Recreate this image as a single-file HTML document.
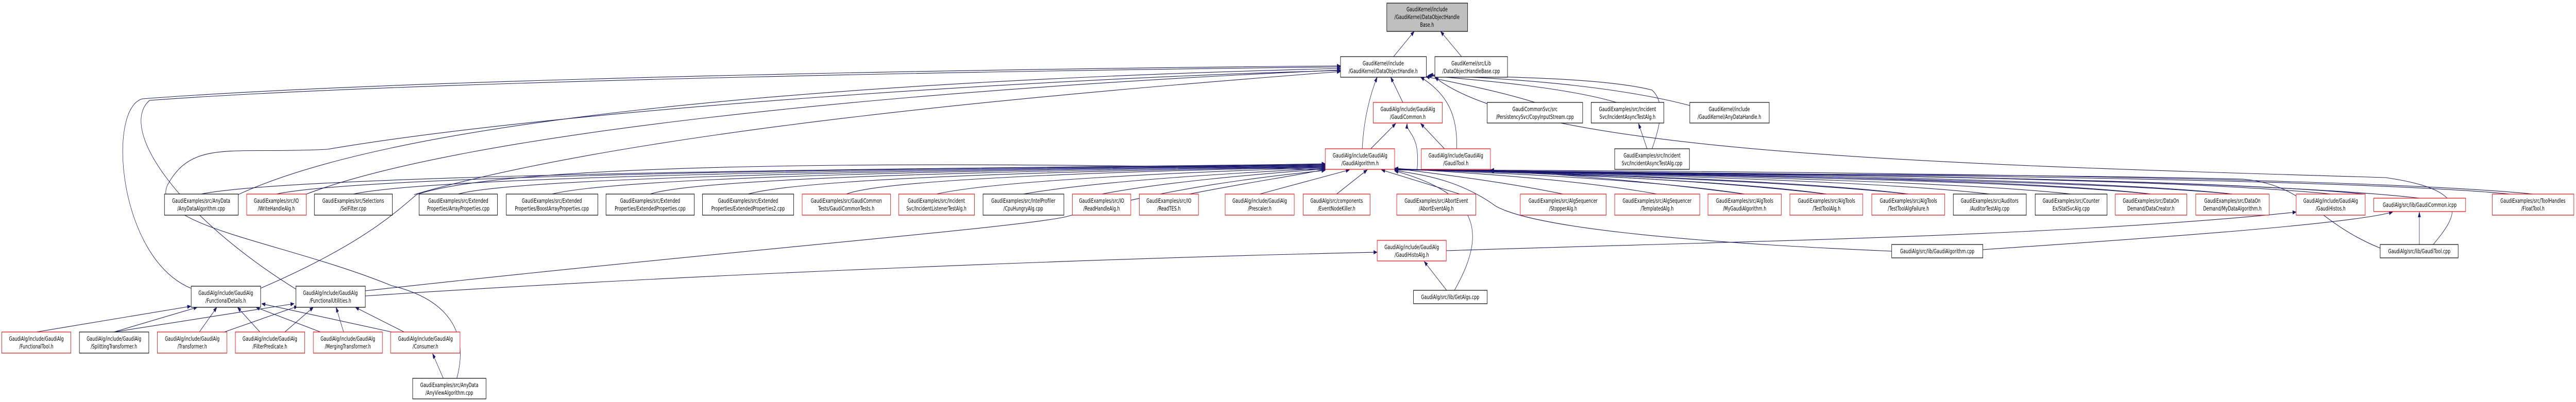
<!DOCTYPE html>
<html><head><meta charset="utf-8"><style>
html,body{margin:0;padding:0;background:#fff;width:100%;height:100%;overflow:hidden}
svg{display:block;position:absolute;left:0;top:0;width:100vw;height:100vh}
text{font-family:"DejaVu Sans","Liberation Sans",sans-serif;font-size:11.5px;fill:#000;text-anchor:middle}
.k{fill:#fff;stroke:#000;stroke-width:1.2}
.r{fill:#fff;stroke:#f00;stroke-width:1.2}
.e{fill:none;stroke:#191970;stroke-width:1.1}
</style></head><body>
<svg viewBox="0 0 7235 781" preserveAspectRatio="none" xmlns="http://www.w3.org/2000/svg">
<defs><marker id="a" markerUnits="userSpaceOnUse" markerWidth="11" markerHeight="8" refX="10" refY="4" orient="auto"><path d="M0,0 L11,4 L0,8 z" fill="#191970"/></marker></defs>
<g class="e" marker-end="url(#a)">
<path d="M3914 110 L3972 61"/>
<path d="M4105 110 L4046 61"/>
<path d="M3940 199 L3906 150"/>
<path d="M3826 289 C3830 230 3850 180 3868 150"/>
<path d="M4091 289 C4095 220 4060 180 3990 150"/>
<path d="M4311 199 C4200 175 4080 160 4005 149"/>
<path d="M4540 199 C4400 170 4150 155 4010 147"/>
<path d="M4746 205 C4500 160 4150 150 4012 146"/>
<path d="M4640 289 C4660 250 4680 200 4640 175 C4500 150 4200 150 4015 145"/>
<path d="M6834 475 C6900 420 6950 370 6700 345 C5500 320 4300 300 4030 150"/>
<path d="M669 378 C1100 240 2200 160 3765 133"/>
<path d="M857 378 C1300 260 2500 175 3765 136"/>
<path d="M1163 378 C1800 250 3000 180 3765 139"/>
<path d="M536 560 C330 500 300 210 400 192 C1200 150 3000 132 3765 128"/>
<path d="M834 563 C500 420 330 250 420 195 C1200 155 3000 136 3765 130"/>
<path d="M1283 735 C1320 640 1250 580 1100 555 C800 470 420 440 470 360 C540 270 650 300 920 290 C1600 210 3000 150 3765 137"/>
<path d="M3850 289 L3920 240"/>
<path d="M4057 289 L3990 240"/>
<path d="M3980 330 C3990 260 3950 260 3952 240"/>
<path d="M4626 289 L4602 240"/>
<path d="M565 377 C900 330 3300 325 3722 318"/>
<path d="M776 377 C1100 330 3300 325 3722 319"/>
<path d="M992 377 C1300 332 3300 326 3722 320"/>
<path d="M1287 377 C1500 335 3300 326 3722 321"/>
<path d="M1550 377 C1800 335 3300 327 3722 322"/>
<path d="M1826 377 C2000 338 3300 328 3722 323"/>
<path d="M2101 377 C2300 340 3300 329 3722 324"/>
<path d="M2377 377 C2500 345 3300 330 3722 325"/>
<path d="M2630 377 C2800 350 3400 332 3722 326"/>
<path d="M2874 377 C3100 350 3500 335 3722 327"/>
<path d="M3094 377 C3300 350 3600 335 3722 328"/>
<path d="M3340 377 C3500 355 3650 340 3722 329"/>
<path d="M3538 377 L3790 330"/>
<path d="M3754 377 L3840 330"/>
<path d="M4100 377 L3880 330"/>
<path d="M732 560 C1000 480 1100 420 1170 378 C1500 300 3200 320 3722 330"/>
<path d="M1026 565 C2000 490 2900 440 3000 420 C3300 360 3600 340 3722 331"/>
<path d="M4390 377 C4200 350 4000 335 3917 327"/>
<path d="M4654 377 C4400 345 4050 333 3917 327"/>
<path d="M4900 377 C4600 345 4100 333 3917 328"/>
<path d="M5130 377 C4800 345 4100 332 3917 328"/>
<path d="M5360 377 C5000 345 4100 332 3917 328"/>
<path d="M5588 377 C5200 345 4100 332 3917 329"/>
<path d="M5817 377 C5400 345 4100 332 3917 329"/>
<path d="M6041 377 C5600 340 4100 332 3917 329"/>
<path d="M6270 377 C5800 340 4100 332 3917 329"/>
<path d="M6546 377 C6000 338 4100 332 3917 330"/>
<path d="M6796 385 C6200 338 4100 332 3917 330"/>
<path d="M7114 377 C6500 335 4100 330 3917 330"/>
<path d="M5313 488 C4700 470 4300 440 4200 400 C4100 350 4000 340 3917 331"/>
<path d="M4085 564 C4170 460 4170 380 3917 332"/>
<path d="M4900 377 C4600 350 4400 340 4186 330"/>
<path d="M5130 377 C4800 350 4400 340 4186 330"/>
<path d="M5360 377 C5000 350 4400 340 4186 331"/>
<path d="M6041 377 C5600 345 4400 338 4186 331"/>
<path d="M6270 377 C5800 345 4400 338 4186 331"/>
<path d="M6640 377 C6100 340 4400 336 4186 332"/>
<path d="M7050 377 C6500 340 4400 335 4186 332"/>
<path d="M6685 482 C6500 430 6480 360 6300 348 C5500 335 4500 340 4186 333"/>
<path d="M4063 564 L4000 508"/>
<path d="M1026 575 C2000 530 3200 500 3868 490"/>
<path d="M4062 487 C4800 470 5800 460 6449 412"/>
<path d="M6795 475 L6795 412"/>
<path d="M5569 485 C6100 460 6600 435 6720 412"/>
<path d="M102 645 L536 595"/>
<path d="M320 645 L554 597"/>
<path d="M320 645 L826 590"/>
<path d="M560 645 L609 597"/>
<path d="M630 645 L836 595"/>
<path d="M730 645 L667 597"/>
<path d="M800 645 L880 597"/>
<path d="M900 645 L719 597"/>
<path d="M965 645 L944 597"/>
<path d="M1100 645 L735 590"/>
<path d="M1135 645 L998 597"/>
<path d="M1245 735 L1215 687"/>
</g>
<rect x="3895" y="6" width="227" height="55" fill="#bfbfbf" stroke="#000" stroke-width="1.2"/>
<text x="4008" y="22">GaudiKernel/include</text><text x="4008" y="37">/GaudiKernel/DataObjectHandle</text><text x="4008" y="52">Base.h</text>
<rect class="k" x="3765" y="110" width="241" height="40"/><text x="3885" y="127">GaudiKernel/include</text><text x="3885" y="142">/GaudiKernel/DataObjectHandle.h</text>
<rect class="k" x="4030" y="110" width="204" height="40"/><text x="4132" y="127">GaudiKernel/src/Lib</text><text x="4132" y="142">/DataObjectHandleBase.cpp</text>
<rect class="r" x="3857" y="199" width="194" height="40"/><text x="3954" y="216">GaudiAlg/include/GaudiAlg</text><text x="3954" y="231">/GaudiCommon.h</text>
<rect class="k" x="4177" y="199" width="268" height="40"/><text x="4311" y="216">GaudiCommonSvc/src</text><text x="4311" y="231">/PersistencySvc/CopyInputStream.cpp</text>
<rect class="k" x="4469" y="199" width="204" height="40"/><text x="4571" y="216">GaudiExamples/src/Incident</text><text x="4571" y="231">Svc/IncidentAsyncTestAlg.h</text>
<rect class="k" x="4746" y="199" width="223" height="40"/><text x="4857" y="216">GaudiKernel/include</text><text x="4857" y="231">/GaudiKernel/AnyDataHandle.h</text>
<rect class="r" x="3722" y="289" width="195" height="40"/><text x="3820" y="306">GaudiAlg/include/GaudiAlg</text><text x="3820" y="321">/GaudiAlgorithm.h</text>
<rect class="r" x="3992" y="289" width="194" height="40"/><text x="4089" y="306">GaudiAlg/include/GaudiAlg</text><text x="4089" y="321">/GaudiTool.h</text>
<rect class="k" x="4535" y="289" width="210" height="40"/><text x="4640" y="306">GaudiExamples/src/Incident</text><text x="4640" y="321">Svc/IncidentAsyncTestAlg.cpp</text>
<g>
<rect class="k" x="462" y="377" width="207" height="41"/><text x="565" y="394">GaudiExamples/src/AnyData</text><text x="565" y="409">/AnyDataAlgorithm.cpp</text>
<rect class="r" x="693" y="377" width="167" height="41"/><text x="776" y="394">GaudiExamples/src/IO</text><text x="776" y="409">/WriteHandleAlg.h</text>
<rect class="k" x="883" y="377" width="219" height="41"/><text x="992" y="394">GaudiExamples/src/Selections</text><text x="992" y="409">/SelFilter.cpp</text>
<rect class="k" x="1177" y="377" width="220" height="41"/><text x="1287" y="394">GaudiExamples/src/Extended</text><text x="1287" y="409">Properties/ArrayProperties.cpp</text>
<rect class="k" x="1422" y="377" width="257" height="41"/><text x="1550" y="394">GaudiExamples/src/Extended</text><text x="1550" y="409">Properties/BoostArrayProperties.cpp</text>
<rect class="k" x="1702" y="377" width="248" height="41"/><text x="1826" y="394">GaudiExamples/src/Extended</text><text x="1826" y="409">Properties/ExtendedProperties.cpp</text>
<rect class="k" x="1973" y="377" width="256" height="41"/><text x="2101" y="394">GaudiExamples/src/Extended</text><text x="2101" y="409">Properties/ExtendedProperties2.cpp</text>
<rect class="r" x="2253" y="377" width="248" height="41"/><text x="2377" y="394">GaudiExamples/src/GaudiCommon</text><text x="2377" y="409">Tests/GaudiCommonTests.h</text>
<rect class="r" x="2524" y="377" width="213" height="41"/><text x="2630" y="394">GaudiExamples/src/Incident</text><text x="2630" y="409">Svc/IncidentListenerTestAlg.h</text>
<rect class="k" x="2761" y="377" width="227" height="41"/><text x="2874" y="394">GaudiExamples/src/IntelProfiler</text><text x="2874" y="409">/CpuHungryAlg.cpp</text>
<rect class="r" x="3012" y="377" width="164" height="41"/><text x="3094" y="394">GaudiExamples/src/IO</text><text x="3094" y="409">/ReadHandleAlg.h</text>
<rect class="r" x="3200" y="377" width="166" height="41"/><text x="3283" y="394">GaudiExamples/src/IO</text><text x="3283" y="409">/ReadTES.h</text>
<rect class="r" x="3441" y="377" width="194" height="41"/><text x="3538" y="394">GaudiAlg/include/GaudiAlg</text><text x="3538" y="409">/Prescaler.h</text>
<rect class="r" x="3660" y="377" width="188" height="41"/><text x="3754" y="394">GaudiAlg/src/components</text><text x="3754" y="409">/EventNodeKiller.h</text>
<rect class="r" x="3923" y="377" width="222" height="41"/><text x="4034" y="394">GaudiExamples/src/AbortEvent</text><text x="4034" y="409">/AbortEventAlg.h</text>
<rect class="r" x="4270" y="377" width="241" height="41"/><text x="4390" y="394">GaudiExamples/src/AlgSequencer</text><text x="4390" y="409">/StopperAlg.h</text>
<rect class="r" x="4535" y="377" width="239" height="41"/><text x="4654" y="394">GaudiExamples/src/AlgSequencer</text><text x="4654" y="409">/TemplatedAlg.h</text>
<rect class="r" x="4797" y="377" width="206" height="41"/><text x="4900" y="394">GaudiExamples/src/AlgTools</text><text x="4900" y="409">/MyGaudiAlgorithm.h</text>
<rect class="r" x="5027" y="377" width="205" height="41"/><text x="5130" y="394">GaudiExamples/src/AlgTools</text><text x="5130" y="409">/TestToolAlg.h</text>
<rect class="r" x="5257" y="377" width="205" height="41"/><text x="5360" y="394">GaudiExamples/src/AlgTools</text><text x="5360" y="409">/TestToolAlgFailure.h</text>
<rect class="k" x="5486" y="377" width="205" height="41"/><text x="5588" y="394">GaudiExamples/src/Auditors</text><text x="5588" y="409">/AuditorTestAlg.cpp</text>
<rect class="k" x="5716" y="377" width="202" height="41"/><text x="5817" y="394">GaudiExamples/src/Counter</text><text x="5817" y="409">Ex/StatSvcAlg.cpp</text>
<rect class="r" x="5941" y="377" width="201" height="41"/><text x="6041" y="394">GaudiExamples/src/DataOn</text><text x="6041" y="409">Demand/DataCreator.h</text>
<rect class="r" x="6167" y="377" width="206" height="41"/><text x="6270" y="394">GaudiExamples/src/DataOn</text><text x="6270" y="409">Demand/MyDataAlgorithm.h</text>
<rect class="r" x="6449" y="377" width="194" height="41"/><text x="6546" y="394">GaudiAlg/include/GaudiAlg</text><text x="6546" y="409">/GaudiHistos.h</text>
<rect class="r" x="6667" y="385" width="258" height="26"/><text x="6796" y="402">GaudiAlg/src/lib/GaudiCommon.icpp</text>
<rect class="r" x="7000" y="377" width="229" height="41"/><text x="7114" y="394">GaudiExamples/src/ToolHandles</text><text x="7114" y="409">/FloatTool.h</text>
</g>
<rect class="r" x="3868" y="467" width="194" height="40"/><text x="3965" y="484">GaudiAlg/include/GaudiAlg</text><text x="3965" y="499">/GaudiHistoAlg.h</text>
<rect class="k" x="3970" y="564" width="207" height="26"/><text x="4073" y="581">GaudiAlg/src/lib/GetAlgs.cpp</text>
<rect class="k" x="5313" y="475" width="256" height="26"/><text x="5441" y="492">GaudiAlg/src/lib/GaudiAlgorithm.cpp</text>
<rect class="k" x="6685" y="475" width="219" height="26"/><text x="6795" y="492">GaudiAlg/src/lib/GaudiTool.cpp</text>
<rect class="k" x="537" y="556" width="195" height="41"/><text x="634" y="573">GaudiAlg/include/GaudiAlg</text><text x="634" y="588">/FunctionalDetails.h</text>
<rect class="k" x="831" y="556" width="195" height="41"/><text x="928" y="573">GaudiAlg/include/GaudiAlg</text><text x="928" y="588">/FunctionalUtilities.h</text>
<rect class="r" x="5" y="645" width="194" height="41"/><text x="102" y="662">GaudiAlg/include/GaudiAlg</text><text x="102" y="677">/FunctionalTool.h</text>
<rect class="k" x="223" y="645" width="195" height="41"/><text x="320" y="662">GaudiAlg/include/GaudiAlg</text><text x="320" y="677">/SplittingTransformer.h</text>
<rect class="r" x="442" y="645" width="195" height="41"/><text x="540" y="662">GaudiAlg/include/GaudiAlg</text><text x="540" y="677">/Transformer.h</text>
<rect class="r" x="661" y="645" width="195" height="41"/><text x="758" y="662">GaudiAlg/include/GaudiAlg</text><text x="758" y="677">/FilterPredicate.h</text>
<rect class="r" x="880" y="645" width="194" height="41"/><text x="977" y="662">GaudiAlg/include/GaudiAlg</text><text x="977" y="677">/MergingTransformer.h</text>
<rect class="r" x="1097" y="645" width="195" height="41"/><text x="1195" y="662">GaudiAlg/include/GaudiAlg</text><text x="1195" y="677">/Consumer.h</text>
<rect class="k" x="1159" y="735" width="206" height="40"/><text x="1262" y="752">GaudiExamples/src/AnyData</text><text x="1262" y="767">/AnyViewAlgorithm.cpp</text>
</svg>
</body></html>
